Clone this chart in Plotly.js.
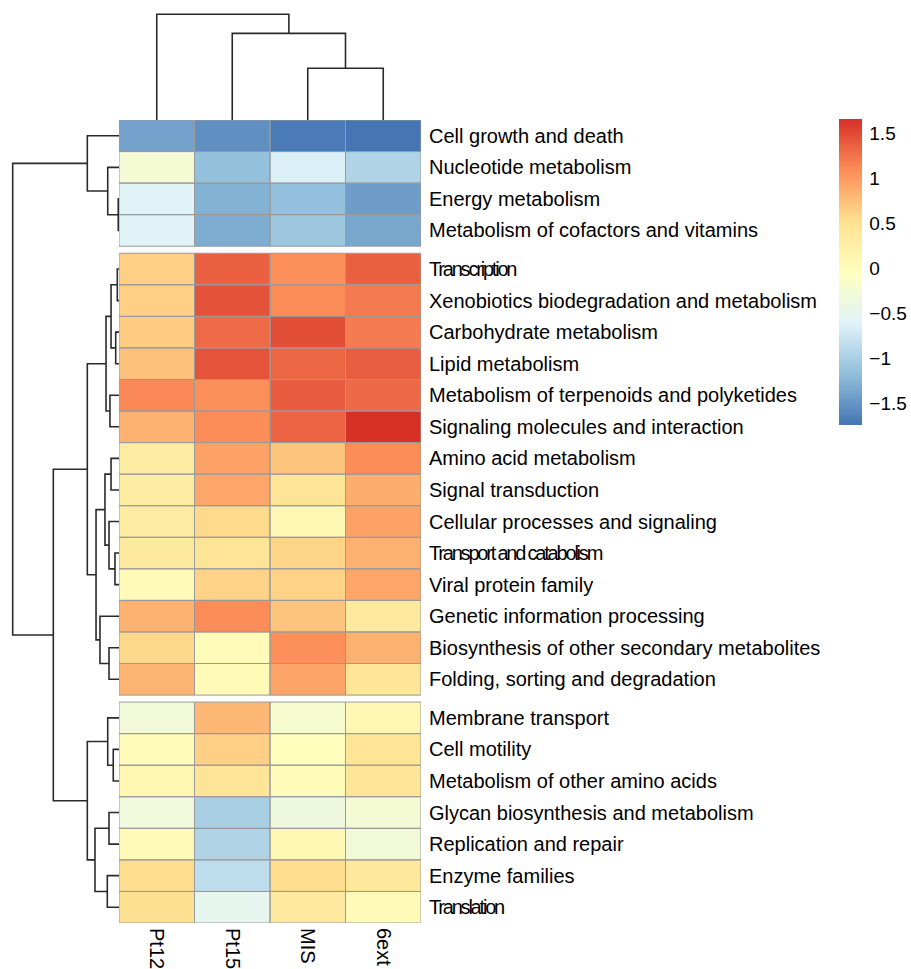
<!DOCTYPE html>
<html>
<head>
<meta charset="utf-8">
<script src="https://cdn.plot.ly/plotly-3.0.1.min.js"></script>
<style>
  html, body { margin: 0; padding: 0; background: #ffffff; }
  #chart { width: 911px; height: 969px; }
</style>
</head>
<body>
<div id="chart"></div>
<script>
// Samples (columns, in clustered order)
const samples = ['Pt12', 'Pt15', 'MIS', '6ext'];

// KEGG pathway categories (rows, in clustered order)
const pathways = [
  'Cell growth and death',
  'Nucleotide metabolism',
  'Energy metabolism',
  'Metabolism of cofactors and vitamins',
  'Transcription',
  'Xenobiotics biodegradation and metabolism',
  'Carbohydrate metabolism',
  'Lipid metabolism',
  'Metabolism of terpenoids and polyketides',
  'Signaling molecules and interaction',
  'Amino acid metabolism',
  'Signal transduction',
  'Cellular processes and signaling',
  'Transport and catabolism',
  'Viral protein family',
  'Genetic information processing',
  'Biosynthesis of other secondary metabolites',
  'Folding, sorting and degradation',
  'Membrane transport',
  'Cell motility',
  'Metabolism of other amino acids',
  'Glycan biosynthesis and metabolism',
  'Replication and repair',
  'Enzyme families',
  'Translation'
];

// Row-scaled abundance (z-scores), one array per sample
const valPt12 = [-1.40, -0.25, -0.60, -0.60, 0.64, 0.64, 0.66, 0.74, 1.12, 0.84, 0.30, 0.30, 0.30,
                 0.35, 0.05, 0.84, 0.58, 0.83, -0.30, 0.02, 0.12, -0.32, 0.05, 0.55, 0.52];
const valPt15 = [-1.54, -1.15, -1.27, -1.31, 1.37, 1.45, 1.30, 1.44, 1.08, 1.10, 0.95, 0.92, 0.57,
                 0.45, 0.62, 1.10, 0.02, 0.05, 0.80, 0.64, 0.45, -1.00, -0.95, -0.85, -0.50];
const valMIS  = [-1.70, -0.65, -1.16, -1.09, 1.08, 1.10, 1.48, 1.33, 1.40, 1.35, 0.72, 0.45, 0.08,
                 0.60, 0.62, 0.72, 1.08, 0.93, -0.20, -0.02, 0.02, -0.35, 0.08, 0.55, 0.35];
const val6ext = [-1.74, -0.95, -1.43, -1.36, 1.37, 1.21, 1.20, 1.38, 1.31, 1.66, 1.09, 0.87, 0.95,
                 0.85, 0.92, 0.35, 0.85, 0.42, 0.10, 0.45, 0.42, -0.25, -0.30, 0.38, 0.05];

// Row clusters after cutting the tree into 3 groups (sizes, top to bottom)
const rowClusterSizes = [4, 14, 7];

// Row hclust merges: [a, b, height]; negative = leaf (1-based row), positive = earlier merge
const rowMerges = [
  [-3, -4, 0.07], [-2, 1, 1.06], [-1, 2, 2.98],
  [-5, -6, 0.16], [-7, -8, 0.31], [4, 5, 0.75], [-9, -10, 0.85], [6, 7, 1.22],
  [-11, -12, 0.75], [-14, -15, 0.38], [-13, 10, 0.94], [9, 11, 1.32],
  [-17, -18, 0.94], [-16, 13, 1.79], [12, 14, 2.16], [8, 15, 2.98],
  [-20, -21, 0.54], [-19, 17, 1.06], [-22, -23, 0.94], [-24, -25, 1.10],
  [19, 20, 2.26], [18, 21, 2.98],
  [16, 22, 6.18], [3, 23, 10.0]
];

// Column hclust merges
const colMerges = [[-3, -4, 4.89], [-2, 1, 8.20], [-1, 2, 10.0]];

// Labels drawn with tight letter spacing
const tightLabels = ['Transcription', 'Transport and catabolism', 'Translation'];

// ---------------------------------------------------------------------------
const W = 911, H = 969;
const px = v => v / W;
const py = v => 1 - v / H;

const heat = { left: 119, right: 421, top: 120, bottom: 923 };
const rowTreeLeft = 12.7, colTreeTop = 14.3, pad = 2;
const gapRows = 0.222;             // gap between row clusters, in row units
const font = 'Liberation Sans, Arial, Helvetica, sans-serif';

// Row top positions (in row units, including cluster gaps)
const rowTop = [];
{
  let pos = 0;
  rowClusterSizes.forEach((n, g) => {
    for (let i = 0; i < n; i++) rowTop.push(pos + i);
    pos += n + gapRows;
  });
}
const yTotal = rowClusterSizes.reduce((a, b) => a + b, 0) + gapRows * (rowClusterSizes.length - 1);
const rowCenter = rowTop.map(t => t + 0.5);

const columns = [valPt12, valPt15, valMIS, val6ext];
const allVals = columns.flat();
const zmin = Math.min(...allVals), zmax = Math.max(...allVals);

// Heatmap: one trace per row cluster
const traces = [];
{
  let start = 0;
  rowClusterSizes.forEach(n => {
    const z = [], yEdges = [];
    for (let i = 0; i < n; i++) {
      z.push(columns.map(col => col[start + i]));
      yEdges.push(rowTop[start + i]);
    }
    yEdges.push(rowTop[start + n - 1] + 1);
    traces.push({
      type: 'heatmap', x: samples.map((_, i) => i), y: yEdges, z: z,
      coloraxis: 'coloraxis', xaxis: 'x', yaxis: 'y', hoverinfo: 'skip'
    });
    start += n;
  });
}

// Dendrogram segments from merge lists
function dendroSegments(merges, leafPos) {
  const pos = [], hgt = [];
  const segA = [], segH = [];
  const get = id => id < 0 ? [leafPos[-id - 1], 0] : [pos[id - 1], hgt[id - 1]];
  merges.forEach(([a, b, h]) => {
    const [pa, ha] = get(a), [pb, hb] = get(b);
    segA.push(pa, pa, pb, pb, null);
    segH.push(ha, h, h, hb, null);
    pos.push((pa + pb) / 2);
    hgt.push(h);
  });
  return { pos: segA, h: segH, max: Math.max(...hgt) };
}

const lineStyle = { color: '#2a2a2a', width: 1.6 };

const rowTree = dendroSegments(rowMerges, rowCenter);
traces.push({
  type: 'scatter', mode: 'lines', x: rowTree.h, y: rowTree.pos,
  xaxis: 'x2', yaxis: 'y', line: lineStyle, hoverinfo: 'skip'
});

const colTree = dendroSegments(colMerges, samples.map((_, i) => i));
traces.push({
  type: 'scatter', mode: 'lines', x: colTree.pos, y: colTree.h,
  xaxis: 'x', yaxis: 'y2', line: lineStyle, hoverinfo: 'skip'
});

// Cell borders
const shapes = [];
rowTop.forEach(t => {
  samples.forEach((_, c) => {
    shapes.push({
      type: 'rect', xref: 'x', yref: 'y',
      x0: c - 0.5, x1: c + 0.5, y0: t, y1: t + 1,
      line: { color: '#9a9a9a', width: 1 }, fillcolor: 'rgba(0,0,0,0)', layer: 'above'
    });
  });
});

const rowTreeUnitsPerPx = rowTree.max / (heat.left - rowTreeLeft);
const colTreeUnitsPerPx = colTree.max / (heat.top - colTreeTop);

const layout = {
  width: W, height: H,
  margin: { l: 0, r: 0, t: 0, b: 0, pad: 0 },
  paper_bgcolor: '#ffffff', plot_bgcolor: 'rgba(0,0,0,0)',
  showlegend: false, hovermode: false,
  font: { family: font, size: 20, color: '#000000' },
  xaxis: {
    domain: [px(heat.left), px(heat.right)], range: [-0.5, samples.length - 0.5],
    anchor: 'y', tickmode: 'array', tickvals: samples.map((_, i) => i), ticktext: samples,
    tickangle: 90, ticks: '', ticklabelstandoff: 4,
    showgrid: false, zeroline: false, showline: false, automargin: false,
    tickfont: { family: font, size: 20, color: '#000000' }
  },
  yaxis: {
    domain: [py(heat.bottom), py(heat.top)], range: [yTotal, 0], autorange: false,
    anchor: 'x', side: 'right', tickmode: 'array', tickvals: rowCenter, ticktext: pathways,
    ticks: '', ticklabelstandoff: 7,
    showgrid: false, zeroline: false, showline: false, automargin: false,
    tickfont: { family: font, size: 20, color: '#000000' }
  },
  xaxis2: {
    domain: [px(rowTreeLeft - pad), px(heat.left)],
    range: [rowTree.max + pad * rowTreeUnitsPerPx, 0], autorange: false,
    anchor: 'y', visible: false, showgrid: false, zeroline: false
  },
  yaxis2: {
    domain: [py(heat.top), py(colTreeTop - pad)],
    range: [0, colTree.max + pad * colTreeUnitsPerPx], autorange: false,
    anchor: 'x', visible: false, showgrid: false, zeroline: false
  },
  coloraxis: {
    cmin: zmin, cmax: zmax,
    colorscale: [
      [0 / 6, '#4575B4'], [1 / 6, '#91BFDB'], [2 / 6, '#E0F3F8'], [3 / 6, '#FFFFBF'],
      [4 / 6, '#FEE090'], [5 / 6, '#FC8D59'], [6 / 6, '#D73027']
    ],
    colorbar: {
      x: px(839), xanchor: 'left', y: py(119), yanchor: 'top',
      len: 306, lenmode: 'pixels', thickness: 23, thicknessmode: 'pixels',
      xpad: 0, ypad: 0, outlinewidth: 0,
      tickmode: 'array', tickvals: [-1.5, -1, -0.5, 0, 0.5, 1, 1.5],
      ticks: 'outside', ticklen: 4, tickcolor: 'rgba(0,0,0,0)',
      tickfont: { family: font, size: 19, color: '#000000' }
    }
  },
  shapes: shapes
};

function tightenLabels(gd) {
  gd.querySelectorAll('.ytick text').forEach(t => {
    if (tightLabels.includes(t.textContent)) t.style.letterSpacing = '-2.2px';
  });
}

Plotly.newPlot('chart', traces, layout, { staticPlot: true, displayModeBar: false })
  .then(gd => {
    tightenLabels(gd);
    gd.on('plotly_afterplot', () => tightenLabels(gd));
  });
</script>
</body>
</html>
